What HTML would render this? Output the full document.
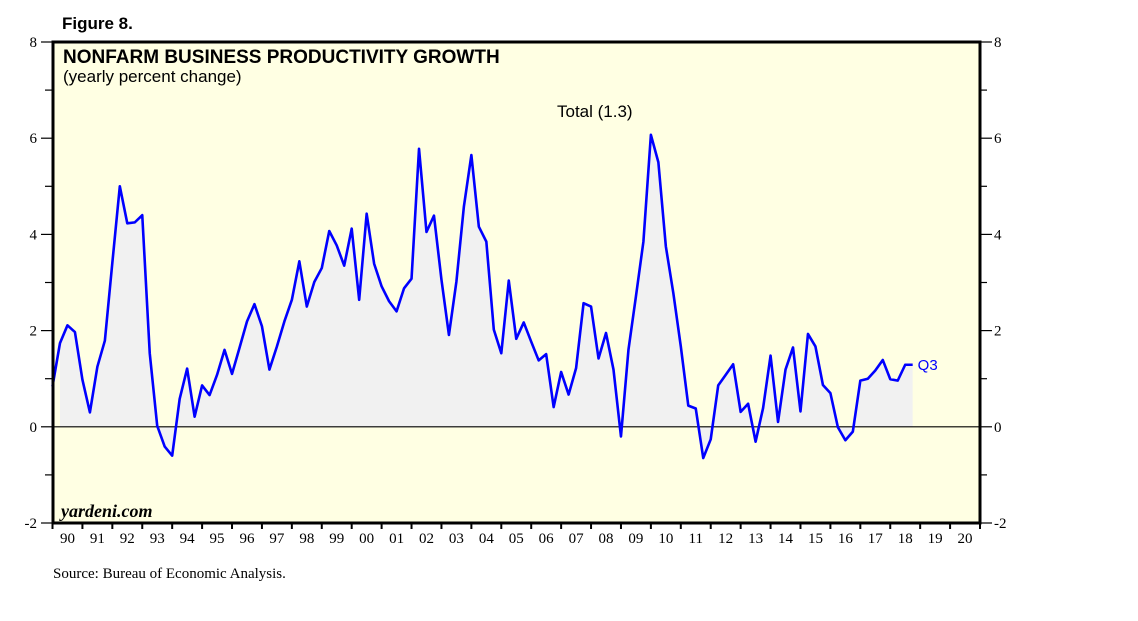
<!DOCTYPE html>
<html><head><meta charset="utf-8"><style>
body{margin:0;background:#fff;width:1138px;height:621px;overflow:hidden}
svg{display:block}
</style></head><body>
<svg id="chart" width="1138" height="621" xmlns="http://www.w3.org/2000/svg">
<text x="62" y="29" font-family="Liberation Sans, sans-serif" font-weight="bold" font-size="17">Figure 8.</text>
<rect x="53" y="42" width="927" height="481" fill="#FFFFE3"/>
<g id="plot"></g>
<rect x="53" y="42" width="927" height="481" fill="none" stroke="#000" stroke-width="3"/>
<text x="63" y="63" font-family="Liberation Sans, sans-serif" font-weight="bold" font-size="19">NONFARM BUSINESS PRODUCTIVITY GROWTH</text>
<text x="63" y="82" font-family="Liberation Sans, sans-serif" font-size="17">(yearly percent change)</text>
<text x="557" y="117" font-family="Liberation Sans, sans-serif" font-size="17">Total (1.3)</text>
<text x="61" y="517" font-family="Liberation Serif, serif" font-style="italic" font-weight="bold" font-size="18">yardeni.com</text>
<text x="53" y="578" font-family="Liberation Serif, serif" font-size="15">Source: Bureau of Economic Analysis.</text>
<g id="axes"></g>
</svg>
<script>
const yTicks=[-2,0,2,4,6,8];
const yearLabels=["90","91","92","93","94","95","96","97","98","99","00","01","02","03","04","05","06","07","08","09","10","11","12","13","14","15","16","17","18","19","20"];
const startQuarter=-1;
const values=[0.84,
1.74,2.11,1.97,0.98, 0.30,1.25,1.79,3.41, 5.0,4.23,4.25,4.40, 1.53,0.02,-0.41,-0.60,
0.58,1.21,0.21,0.86, 0.66,1.08,1.60,1.10, 1.64,2.19,2.55,2.09, 1.19,1.67,2.19,2.64,
3.44,2.50,3.01,3.30, 4.07,3.77,3.35,4.12, 2.64,4.43,3.39,2.92, 2.61,2.40,2.88,3.08,
5.78,4.05,4.39,3.06, 1.91,3.02,4.58,5.65, 4.16,3.85,2.02,1.53, 3.04,1.83,2.17,1.77,
1.38,1.51,0.41,1.14, 0.67,1.22,2.57,2.50, 1.42,1.95,1.19,-0.20, 1.60,2.71,3.85,6.07,
5.50,3.75,2.78,1.67, 0.44,0.38,-0.65,-0.26, 0.86,1.08,1.30,0.31, 0.48,-0.31,0.39,1.48,
0.10,1.19,1.65,0.32, 1.93,1.67,0.87,0.70, -0.01,-0.28,-0.10,0.96, 1.00,1.17,1.39,0.99,
0.96,1.29,1.29];
const X0=52.5,X1=980,Y0=42,Y1=523,yMin=-2,yMax=8;
const yearW=(X1-X0)/yearLabels.length;
const x=i=>X0+(i+startQuarter+1)*yearW/4;
const y=v=>Y1-(v-yMin)/(yMax-yMin)*(Y1-Y0);
const NS="http://www.w3.org/2000/svg";
function mk(tag,attrs,parent){const e=document.createElementNS(NS,tag);for(const k in attrs)e.setAttribute(k,attrs[k]);parent.appendChild(e);return e;}
const plot=document.getElementById('plot'),axes=document.getElementById('axes');
let d='M'+x(1)+','+y(0);
for(let i=1;i<values.length;i++)d+=' L'+x(i)+','+y(values[i]);
d+=' L'+x(values.length-1)+','+y(0)+' Z';
const area=mk('path',{d:d,fill:'#F1F1F1'},plot);


const zl=mk('line',{x1:X0,x2:X1,y1:y(0),y2:y(0),stroke:'#000','stroke-width':1.2},plot);


let pl=values.map((v,i)=>x(i)+','+y(v)).join(' ');
const line=mk('polyline',{points:pl,fill:'none',stroke:'#0000FF','stroke-width':2.6,'stroke-linejoin':'round'},plot);


const last=values.length-1;
const q3=mk('text',{x:x(last)+5,y:y(values[last])+5,fill:'#0000FF','font-family':'Liberation Sans, sans-serif','font-size':15},plot);
q3.textContent='Q3';


for(let v=yMin;v<=yMax;v++){
  const major=v%2===0;
  const tl=mk('line',{x1:major?41:45,x2:52,y1:y(v),y2:y(v),stroke:'#000','stroke-width':1.2},axes);
  
  
  const tr=mk('line',{x1:981,x2:major?992:987,y1:y(v),y2:y(v),stroke:'#000','stroke-width':1.2},axes);
  
  
}
yTicks.forEach(v=>{
  const a=mk('text',{x:37,y:y(v)+5,'text-anchor':'end','font-family':'Liberation Serif, serif','font-size':15},axes);
  a.textContent=v;
  
  
  const b=mk('text',{x:994,y:y(v)+5,'font-family':'Liberation Serif, serif','font-size':15},axes);
  b.textContent=v;
  
  
});
yearLabels.forEach((lab,i)=>{
  const t=mk('line',{x1:X0+i*yearW,x2:X0+i*yearW,y1:523,y2:529,stroke:'#000','stroke-width':2},axes);
  
  
  const tx=mk('text',{x:X0+(i+0.5)*yearW,y:543,'text-anchor':'middle','font-family':'Liberation Serif, serif','font-size':15},axes);
  tx.textContent=lab;
  
  
});
const te=mk('line',{x1:X1,x2:X1,y1:523,y2:529,stroke:'#000','stroke-width':2},axes);


</script>
</body></html>
